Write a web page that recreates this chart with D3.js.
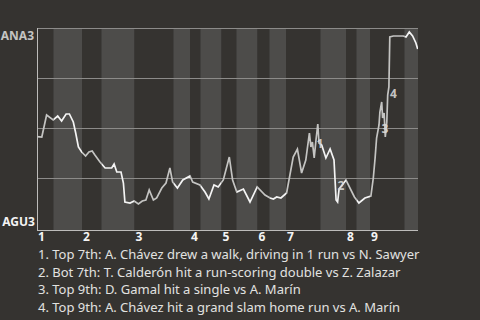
<!DOCTYPE html>
<html>
<head>
<meta charset="utf-8">
<script src="https://cdn.jsdelivr.net/npm/d3@7"></script>
<style>
    html, body { margin: 0; padding: 0; background: #353330; }
    svg { display: block; }
    text { font-family: "Noto Sans", sans-serif; }
</style>
</head>
<body>
<div class="chart"></div>
<script>
const width = 480;
const height = 320;

const margin = {
    top: 28,
    left: 37,
    right: 62,
    bottom: 92,
}

const awayTeam = "ANA3",
      homeTeam = "AGU3";

const topColor = "#c4c4c2",
      botColor = "#f4f4f4";

// start of each half inning (in plays), top 1st .. bottom 9th
const halfStarts = [0, 5.5, 15, 21.5, 32.5, 45.5, 51, 54.5, 61.5, 66.5, 73.5, 77.5, 83, 94.5, 103, 106.5, 111, 122.5];
const gameEnd = 127;
const inningLabels = ["1", "2", "3", "4", "5", "6", "7", "8", "9"];

// win probability for the away team after each play
const playIndex = [0, 1.6, 3.2, 5.4, 6.9, 8.2, 9.7, 10.8, 12.1, 12.9, 13.8, 14.9, 16.2, 17.3, 18.4, 19.3,
    21, 22.7, 24.9, 25.7, 26.6, 28, 28.8, 29.3, 31, 32.4, 33.8, 35.1, 36.3, 37.4, 38.8, 39.9,
    41.6, 43, 44.3, 45.2, 46.8, 48.6, 51, 51.9, 54.3, 56, 57.3, 59, 60.4, 62.1, 64.1, 65.2,
    66.6, 68.8, 71, 73.4, 76, 77.7, 78.8, 79.9, 81.3, 83.2, 85.4, 86.8, 88.2, 89.6, 90.8, 91.3,
    91.8, 92.4, 93, 93.6, 94, 94.9, 96.3, 97.7, 99, 99.7, 100.2, 100.7, 103, 105.8, 107.3, 109.3,
    111.3, 112.1, 112.7, 113.2, 114, 114.3, 114.9, 115.2, 115.7, 116.1, 116.6, 116.9, 117.3, 117.6, 118.8, 120.4,
    122.1, 123, 124.1, 125.2, 126.3, 126.9];
const winProb = [0.457, 0.455, 0.565, 0.54, 0.56, 0.535, 0.57, 0.57, 0.53, 0.475, 0.405, 0.38, 0.36, 0.38, 0.385, 0.365,
    0.33, 0.30, 0.30, 0.32, 0.28, 0.28, 0.225, 0.13, 0.125, 0.135, 0.12, 0.135, 0.14, 0.19, 0.14, 0.15,
    0.20, 0.225, 0.30, 0.23, 0.20, 0.24, 0.26, 0.23, 0.215, 0.18, 0.145, 0.215, 0.205, 0.24, 0.355, 0.24,
    0.18, 0.195, 0.13, 0.205, 0.165, 0.15, 0.145, 0.155, 0.15, 0.175, 0.355, 0.395, 0.275, 0.34, 0.475, 0.405,
    0.43, 0.35, 0.44, 0.52, 0.425, 0.415, 0.35, 0.395, 0.34, 0.14, 0.13, 0.195, 0.24, 0.155, 0.125, 0.15,
    0.16, 0.25, 0.35, 0.45, 0.515, 0.58, 0.63, 0.55, 0.575, 0.455, 0.53, 0.665, 0.705, 0.955, 0.96, 0.96,
    0.96, 0.955, 0.98, 0.96, 0.925, 0.895];

// key plays: label position in plays / win probability
const noteIds = ["1", "2", "3", "4"];
const noteX = [94.3, 101.3, 116.0, 118.8];
const noteWP = [0.415, 0.205, 0.49, 0.665];
const noteTexts = [
    "1. Top 7th: A. Chávez drew a walk, driving in 1 run vs N. Sawyer",
    "2. Bot 7th: T. Calderón hit a run-scoring double vs Z. Zalazar",
    "3. Top 9th: D. Gamal hit a single vs A. Marín",
    "4. Top 9th: A. Chávez hit a grand slam home run vs A. Marín"
];

const gridValues = [0.25, 0.5, 0.75, 1];

const gData = playIndex.map((p, i) => ({ play: p, wp: winProb[i] }));

const plotW = width - margin.left - margin.right,
      plotH = 200;

const xScale = d3.scaleLinear()
    .domain([0, gameEnd])
    .range([margin.left, margin.left + plotW]);

const yScale = d3.scaleLinear()
    .domain([0, 1])
    .range([margin.top + plotH, margin.top]);

let svg = d3.select(".chart")
    .append("svg")
    .attr("width", width)
    .attr("height", height);

svg.append("rect")
    .attr("width", width)
    .attr("height", height)
    .attr("fill", "#353330");

// half inning bands
const halves = halfStarts.map((s, i) => ({
    start: s,
    end: i < halfStarts.length - 1 ? halfStarts[i + 1] : gameEnd,
    top: i % 2 === 0
}));

svg.selectAll(".band")
    .data(halves)
    .enter()
    .append("rect")
    .attr("class", "band")
    .attr("x", (d) => xScale(d.start))
    .attr("y", margin.top)
    .attr("width", (d) => xScale(d.end) - xScale(d.start))
    .attr("height", plotH + 2)
    .attr("fill", (d) => d.top ? "#353330" : "#4d4c4a");

// grid
svg.selectAll(".grid")
    .data(gridValues)
    .enter()
    .append("line")
    .attr("x1", margin.left)
    .attr("x2", margin.left + plotW)
    .attr("y1", (d) => Math.round(yScale(d)) + 0.5)
    .attr("y2", (d) => Math.round(yScale(d)) + 0.5)
    .attr("stroke", "#8c8b89")
    .attr("stroke-width", 1);

svg.append("line")
    .attr("x1", margin.left + 0.5)
    .attr("x2", margin.left + 0.5)
    .attr("y1", margin.top)
    .attr("y2", margin.top + plotH + 2.5)
    .attr("stroke", "#bdbcba");

svg.append("line")
    .attr("x1", margin.left)
    .attr("x2", margin.left + plotW)
    .attr("y1", margin.top + plotH + 2.5)
    .attr("y2", margin.top + plotH + 2.5)
    .attr("stroke", "#bdbcba");

// clip paths so the line takes the batting team's colour
const defs = svg.append("defs");
["top", "bot"].forEach((k) => {
    defs.append("clipPath")
        .attr("id", "clip-" + k)
        .selectAll("rect")
        .data(halves.filter((d) => d.top === (k === "top")))
        .enter()
        .append("rect")
        .attr("x", (d) => xScale(d.start))
        .attr("y", 0)
        .attr("width", (d) => xScale(d.end) - xScale(d.start))
        .attr("height", height);
});

const line = d3.line()
    .x((d) => xScale(d.play))
    .y((d) => yScale(d.wp));

svg.append("path")
    .datum(gData)
    .attr("d", line)
    .attr("fill", "none")
    .attr("stroke", topColor)
    .attr("stroke-width", 1.7)
    .attr("clip-path", "url(#clip-top)");

svg.append("path")
    .datum(gData)
    .attr("d", line)
    .attr("fill", "none")
    .attr("stroke", botColor)
    .attr("stroke-width", 1.7)
    .attr("clip-path", "url(#clip-bot)");

// note markers
svg.selectAll(".note")
    .data(noteIds)
    .enter()
    .append("text")
    .attr("class", "note")
    .attr("x", (d, i) => xScale(noteX[i]))
    .attr("y", (d, i) => yScale(noteWP[i]))
    .attr("text-anchor", "middle")
    .attr("dominant-baseline", "middle")
    .style("font-size", "12px")
    .style("font-weight", "bold")
    .attr("fill", "#d8d8d6")
    .attr("fill-opacity", 0.9)
    .text((d) => d);

// team labels
svg.append("text")
    .text(awayTeam)
    .attr("x", 34)
    .attr("y", 40)
    .attr("text-anchor", "end")
    .attr("fill", topColor)
    .style("font-size", "12px")
    .style("font-weight", "bold");

svg.append("text")
    .text(homeTeam)
    .attr("x", 35)
    .attr("y", 226)
    .attr("text-anchor", "end")
    .attr("fill", botColor)
    .style("font-size", "12px")
    .style("font-weight", "bold");

// inning labels at the start of each top half
svg.selectAll(".inning")
    .data(inningLabels)
    .enter()
    .append("text")
    .attr("class", "inning")
    .attr("x", (d, i) => xScale(halfStarts[i * 2]) + 1)
    .attr("y", 241)
    .attr("fill", botColor)
    .style("font-size", "12px")
    .style("font-weight", "bold")
    .text((d) => d);

// footnotes
svg.selectAll(".footnote")
    .data(noteTexts)
    .enter()
    .append("text")
    .attr("class", "footnote")
    .attr("x", 38)
    .attr("y", (d, i) => 259 + i * 17.5)
    .attr("fill", "#e2e2e0")
    .style("font-size", "13px")
    .text((d) => d);
</script>
</body>
</html>
